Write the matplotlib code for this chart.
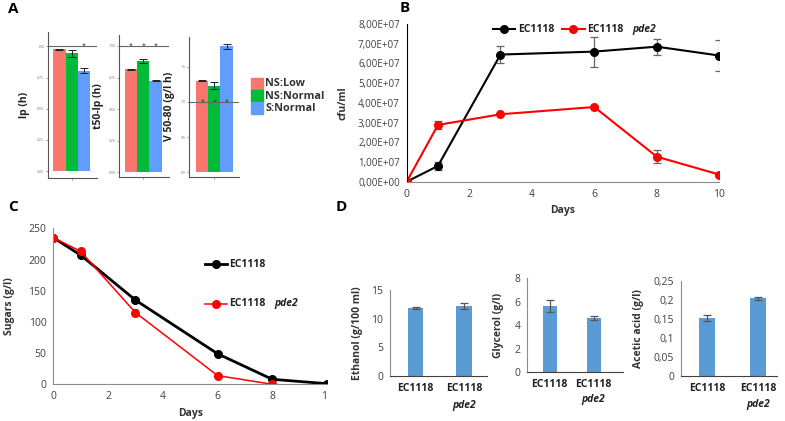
import numpy as np
import matplotlib
matplotlib.use('Agg')
import matplotlib.pyplot as plt
from matplotlib.patches import Rectangle
from matplotlib.lines import Line2D

plt.rcParams['font.family'] = ['Open Sans', 'DejaVu Sans']

# ---- data ----
# panel A (normalised)
groups_a = ['NS:Low', 'NS:Normal', 'S:Normal']
colors_a = ['#F8766D', '#00BA38', '#619CFF']
lp = [0.976, 0.944, 0.804]
lp_err = [0.004, 0.027, 0.021]
t50 = [0.815, 0.881, 0.723]
t50_err = [0.005, 0.016, 0.004]
v5080 = [1.30, 1.23, 1.79]
v5080_err = [0.01, 0.047, 0.038]

# panel B
days_b = [0, 1, 3, 6, 8, 10]
cfu_wt = [0, 0.80e7, 6.45e7, 6.60e7, 6.85e7, 6.40e7]
cfu_wt_err = [0, 0.19e7, 0.42e7, 0.76e7, 0.40e7, 0.78e7]
cfu_pde2 = [0, 2.88e7, 3.42e7, 3.79e7, 1.27e7, 0.36e7]
cfu_pde2_err = [0, 0.19e7, 0, 0, 0.32e7, 0]

# panel C
days_c_wt = [0, 1, 3, 6, 8, 10]
sugar_wt = [235, 207, 135, 49, 8, 1]
days_c_pde2 = [0, 1, 3, 6, 8]
sugar_pde2 = [235, 213, 115, 14, 0]
sugar_pde2_err = [0, 0, 5, 0, 0]

# panel D
strains = ['EC1118', 'EC1118']
ethanol = [11.8, 12.2]
ethanol_err = [0.15, 0.47]
glycerol = [5.64, 4.6]
glycerol_err = [0.48, 0.17]
acetic = [0.152, 0.204]
acetic_err = [0.008, 0.004]

W, H = 785, 421
fig = plt.figure(figsize=(W / 100, H / 100), dpi=100)


def px_axes(l, t, r, b):
    return fig.add_axes([l / W, 1 - b / H, (r - l) / W, (b - t) / H])


# ---- panel A ----
def panel_a(box, vals, errs, ylim, xlim, yticks, yticklabels, ylabel, lab_x, star_idx):
    ax = px_axes(*box)
    x = np.arange(1, 4)
    ax.bar(x, vals, width=1.0, color=colors_a, edgecolor='none')
    ax.errorbar(x, vals, yerr=errs, fmt='none', ecolor='#222222', elinewidth=0.7,
                capsize=3, capthick=0.7)
    ax.axhline(1.0, color='#666666', lw=0.8)
    for i in star_idx:
        ax.text(x[i], 1.0, '*', ha='center', va='center', fontsize=5, color='#333333')
    ax.set_xlim(*xlim)
    ax.set_ylim(*ylim)
    ax.set_xticks([2])
    ax.set_xticklabels([''])
    ax.set_yticks(yticks)
    ax.set_yticklabels(yticklabels, fontsize=2.5, color='#777777')
    ax.tick_params(length=1.5, width=0.5, colors='#777777', pad=1)
    for s in ['top', 'right']:
        ax.spines[s].set_visible(False)
    for s in ['left', 'bottom']:
        ax.spines[s].set_color('#555555')
        ax.spines[s].set_linewidth(0.8)
    ax.set_ylabel(ylabel, fontsize=7.5, fontweight='bold', color='#222222')
    ax.yaxis.set_label_coords(lab_x, 0.5)
    return ax


ticks_a = [0, 0.25, 0.5, 0.75, 1.0]
labels_a = ['0.00', '0.25', '0.50', '0.75', '1.00']
panel_a((47.7, 32, 96.7, 178), lp, lp_err, (-0.056, 1.115), (0.04, 4.05),
        ticks_a, labels_a, 'lp (h)', -0.36, [2])
panel_a((119, 35, 169, 176.7), t50, t50_err, (-0.035, 1.087), (0.01, 4.1),
        ticks_a, labels_a, 't50-lp (h)', -0.31, [0, 1, 2])
panel_a((189.3, 36.7, 239.3, 176.7), v5080, v5080_err, (-0.0625, 1.926), (-0.05, 4.04),
        [0, 0.5, 1.0, 1.5], ['0.0', '0.5', '1.0', '1.5'], 'V 50-80 (g/l h)', -0.29, [0, 1, 2])

# legend A
for i, (g, c) in enumerate(zip(groups_a, colors_a)):
    top = 78 + i * 12.2
    fig.patches.append(Rectangle((250.7 / W, 1 - (top + 11.8) / H), 12 / W, 11.8 / H,
                                 transform=fig.transFigure, color=c, figure=fig))
    fig.text(265.5 / W, 1 - (top + 6) / H, g, fontsize=7.8, fontweight='bold',
             color='#333333', va='center', ha='left')

# ---- panel B ----
axb = px_axes(406.7, 24, 719.3, 181.7)
axb.errorbar(days_b, cfu_wt, yerr=cfu_wt_err, color='black', lw=1.5, marker='o',
             ms=5.5, ecolor='#666666', elinewidth=0.9, capsize=3, capthick=0.9)
axb.errorbar(days_b, cfu_pde2, yerr=cfu_pde2_err, color='#FF0000', lw=1.5, marker='o',
             ms=5.5, ecolor='#666666', elinewidth=0.9, capsize=3, capthick=0.9)
axb.set_xlim(0, 10)
axb.set_ylim(0, 8e7)
yt = np.arange(0, 9) * 1e7
axb.set_yticks(yt)
axb.set_yticklabels([f"{v:.2E}".replace('.', ',') for v in yt], fontsize=7, color='#404040')
axb.set_xticks([0, 2, 4, 6, 8, 10])
axb.tick_params(axis='x', labelsize=7.5, colors='#404040')
axb.tick_params(length=0, pad=5)
for s in ['top', 'right']:
    axb.spines[s].set_visible(False)
axb.spines['left'].set_color('black')
axb.spines['bottom'].set_color('#8c8c8c')
axb.set_ylabel('cfu/ml', fontsize=7.5, fontweight='bold', color='#333333')
axb.yaxis.set_label_coords(-0.1875, 0.5)
axb.set_xlabel('Days', fontsize=7.5, fontweight='bold', color='#333333')
axb.xaxis.set_label_coords(0.5, -0.145)


def legend_entry(ax, x0, x1, y, color, lw, tx, suffix=False):
    ax.add_line(Line2D([x0, x1], [y, y], transform=ax.transAxes, color=color, lw=lw,
                       clip_on=False))
    ax.plot([(x0 + x1) / 2], [y], 'o', color=color, ms=5.5, transform=ax.transAxes,
            clip_on=False)
    t = ax.text(tx, y, 'EC1118', transform=ax.transAxes, fontsize=7.5, fontweight='bold',
                color='#222222', va='center', ha='left')
    if suffix:
        ax.annotate('pde2', xy=(1, 0.5), xycoords=t, xytext=(6.5, 0),
                    textcoords='offset points', fontsize=7.5, fontweight='bold',
                    style='italic', color='#222222', va='center', ha='left')


legend_entry(axb, 0.276, 0.346, 0.966, 'black', 1.5, 0.356)
legend_entry(axb, 0.496, 0.570, 0.966, '#FF0000', 1.5, 0.576, True)

# ---- panel C ----
axc = px_axes(53.3, 228.3, 327, 384.3)
axc.plot(days_c_wt, sugar_wt, color='black', lw=2, marker='o', ms=5.5)
axc.errorbar(days_c_pde2, sugar_pde2, yerr=sugar_pde2_err, color='#FF0000', lw=1.1,
             marker='o', ms=5.5, ecolor='#888888', elinewidth=0.9, capsize=2.5, capthick=0.9)
axc.set_xlim(0, 10)
axc.set_ylim(0, 250)
axc.set_xticks([0, 2, 4, 6, 8, 10])
axc.set_yticks([0, 50, 100, 150, 200, 250])
axc.tick_params(length=0, pad=5, labelsize=7.5, colors='#404040')
for s in ['top', 'right']:
    axc.spines[s].set_visible(False)
axc.spines['left'].set_color('#8c8c8c')
axc.spines['bottom'].set_color('#8c8c8c')
axc.set_ylabel('Sugars (g/l)', fontsize=7.5, fontweight='bold', color='#333333')
axc.yaxis.set_label_coords(-0.14, 0.5)
axc.set_xlabel('Days', fontsize=7.5, fontweight='bold', color='#333333')
axc.xaxis.set_label_coords(0.5, -0.155)
legend_entry(axc, 0.553, 0.633, 0.769, 'black', 2, 0.643)
legend_entry(axc, 0.553, 0.633, 0.515, '#FF0000', 1.1, 0.643, True)

# the original panel C is cropped just after the "1" of its last tick label
fig.patches.append(Rectangle((326.5 / W, 1 - 403 / H), 9 / W, 16 / H,
                             transform=fig.transFigure, color='white', zorder=10,
                             figure=fig))


# ---- panel D ----
def panel_d(box, vals, errs, xlim, ylim, yticks, yticklabels, ylabel, lab_x, pde_off):
    ax = px_axes(*box)
    x = np.arange(len(vals))
    ax.bar(x, vals, width=0.32, color='#5B9BD5')
    ax.errorbar(x, vals, yerr=errs, fmt='none', ecolor='#555555', elinewidth=0.9,
                capsize=3, capthick=0.9)
    ax.set_xlim(*xlim)
    ax.set_ylim(*ylim)
    ax.set_xticks(x)
    ax.set_xticklabels(strains, fontsize=7.5, fontweight='bold', color='#222222')
    ax.set_yticks(yticks)
    ax.set_yticklabels(yticklabels, fontsize=7.5, color='#404040')
    ax.tick_params(length=0, pad=5)
    ax.annotate('pde2', xy=(1, 0), xycoords=('data', 'axes fraction'),
                xytext=(0, -pde_off), textcoords='offset points', ha='center', va='center',
                fontsize=7.5, fontweight='bold', style='italic', color='#222222')
    for s in ['top', 'right']:
        ax.spines[s].set_visible(False)
    ax.spines['left'].set_color('#8c8c8c')
    ax.spines['bottom'].set_color('#404040')
    ax.set_ylabel(ylabel, fontsize=7.5, fontweight='bold', color='#333333')
    ax.yaxis.set_label_coords(lab_x, 0.5)
    return ax


panel_d((390, 290, 486.7, 376), ethanol, ethanol_err, (-0.53, 1.47), (0, 15),
        [0, 5, 10, 15], ['0', '5', '10', '15'], 'Ethanol (g/100 ml)', -0.276, 21)
panel_d((527.3, 278.3, 623, 372.3), glycerol, glycerol_err, (-0.51, 1.67), (0, 8),
        [0, 2, 4, 6, 8], ['0', '2', '4', '6', '8'], 'Glycerol (g/l)', -0.24, 19.5)
panel_d((681, 281, 776.7, 375.7), acetic, acetic_err, (-0.51, 1.36), (0, 0.25),
        [0, 0.05, 0.1, 0.15, 0.2, 0.25], ['0', '0,05', '0,1', '0,15', '0,2', '0,25'],
        'Acetic acid (g/l)', -0.383, 21)

# panel letters
for letter, (px, py) in {'A': (8, 9), 'B': (400, 8), 'C': (8, 207), 'D': (336, 207)}.items():
    fig.text(px / W, 1 - py / H, letter, fontsize=11, fontweight='bold', va='center',
             ha='left', color='black')

fig.savefig('out.png', dpi=100)
